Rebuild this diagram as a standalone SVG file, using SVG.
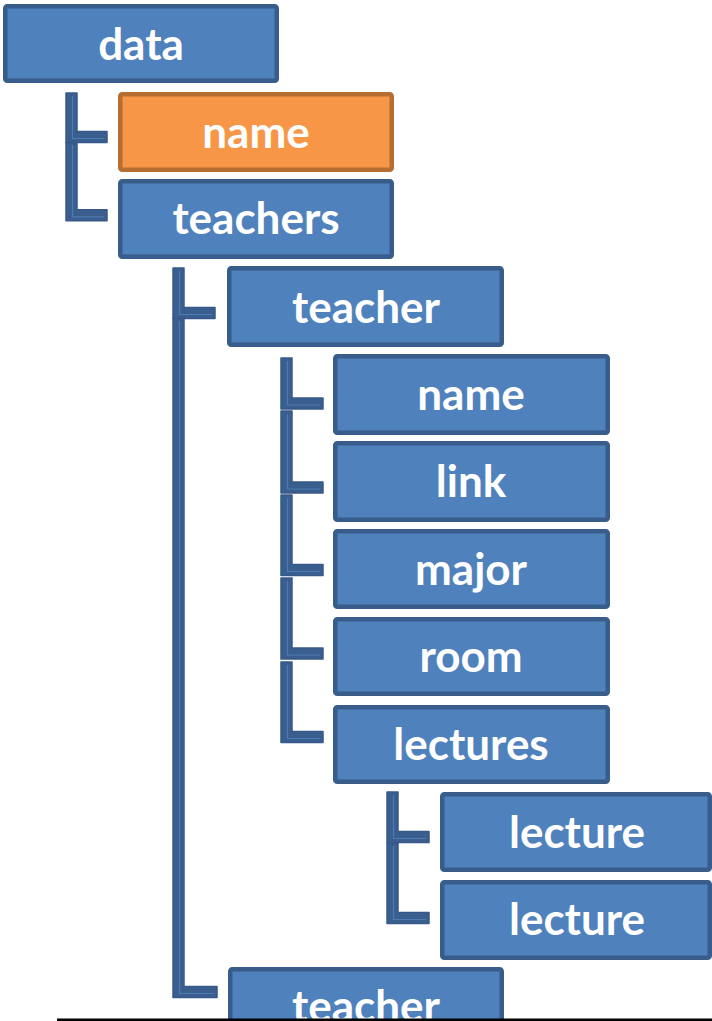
<svg xmlns="http://www.w3.org/2000/svg" width="712" height="1021" viewBox="0 0 712 1021">
  <style>
    .box { fill: #4f81bd; stroke: #385d8a; stroke-width: 4.5; }
    .box.accent { fill: #f79646; stroke: #b66d31; }
    .label { font-family: Lato, "Liberation Sans", sans-serif; font-weight: bold; font-size: 44px; fill: #ffffff; text-anchor: middle; }
    .elbow { fill: #3a5e8e; stroke: #37598a; stroke-width: 1.5; stroke-linejoin: round; }
    .elbow-hl { fill: none; stroke: #4d7bb3; stroke-width: 1.2; }
  </style>
  <rect width="712" height="1021" fill="#ffffff"/>

  <!-- elbow connectors: vertical drop from the parent, then right to the child -->
  <g id="connectors">
    <!-- data -> name, teachers -->
    <path class="elbow" d="M66,93 H77 V131.5 H107 V142.5 H66 Z"/>
    <path class="elbow-hl" d="M72.5,96 V138.5 H104"/>
    <path class="elbow" d="M66,142.5 H77 V209.8 H107 V220.8 H66 Z"/>
    <path class="elbow-hl" d="M72.5,145 V216.8 H104"/>
    <!-- teachers -> teacher, teacher -->
    <path class="elbow" d="M173,268 H184 V307.5 H215 V318.5 H173 Z"/>
    <path class="elbow-hl" d="M179.5,271 V314.5 H212"/>
    <path class="elbow" d="M173,318.5 H184 V986.5 H217 V997.5 H173 Z"/>
    <path class="elbow-hl" d="M179.5,321 V993.5 H214"/>
    <!-- teacher -> name, link, major, room, lectures -->
    <path class="elbow" d="M281,358 H292 V398 H323 V409 H281 Z"/>
    <path class="elbow-hl" d="M287.5,361 V405 H320"/>
    <path class="elbow" d="M281,411 H292 V482 H323 V493 H281 Z"/>
    <path class="elbow-hl" d="M287.5,414 V489 H320"/>
    <path class="elbow" d="M281,495 H292 V564.5 H323 V575.5 H281 Z"/>
    <path class="elbow-hl" d="M287.5,498 V571.5 H320"/>
    <path class="elbow" d="M281,578 H292 V648 H323 V659 H281 Z"/>
    <path class="elbow-hl" d="M287.5,581 V655 H320"/>
    <path class="elbow" d="M281,662 H292 V731.5 H323 V742.5 H281 Z"/>
    <path class="elbow-hl" d="M287.5,665 V738.5 H320"/>
    <!-- lectures -> lecture, lecture -->
    <path class="elbow" d="M387,792 H398 V831.5 H429 V842.5 H387 Z"/>
    <path class="elbow-hl" d="M393.5,795 V838.5 H426"/>
    <path class="elbow" d="M387,843 H398 V912.5 H429 V923.5 H387 Z"/>
    <path class="elbow-hl" d="M393.5,846 V919.5 H426"/>
  </g>

  <g id="node-data">
    <rect class="box" x="5.25" y="6.25" width="271.5" height="74.5" rx="2"/>
    <text class="label" x="141" y="60">data</text>
  </g>
  <g id="node-name">
    <rect class="box accent" x="120.25" y="94.25" width="271.5" height="75.5" rx="2"/>
    <text class="label" x="256" y="147.5">name</text>
  </g>
  <g id="node-teachers">
    <rect class="box" x="120.25" y="181.25" width="271.5" height="75.5" rx="2"/>
    <text class="label" x="256" y="234">teachers</text>
  </g>
  <g id="node-teacher-1">
    <rect class="box" x="229.25" y="268.25" width="272.5" height="76.5" rx="2"/>
    <text class="label" x="366" y="322.5">teacher</text>
  </g>
  <g id="node-teacher-name">
    <rect class="box" x="335.25" y="356.25" width="272.5" height="76.5" rx="2"/>
    <text class="label" x="471" y="409.5">name</text>
  </g>
  <g id="node-link">
    <rect class="box" x="335.25" y="443.25" width="272.5" height="76.5" rx="2"/>
    <text class="label" x="471" y="497">link</text>
  </g>
  <g id="node-major">
    <rect class="box" x="335.25" y="531.25" width="272.5" height="75.5" rx="2"/>
    <text class="label" x="471" y="584.5">major</text>
  </g>
  <g id="node-room">
    <rect class="box" x="335.25" y="619.25" width="272.5" height="74.5" rx="2"/>
    <text class="label" x="471" y="672">room</text>
  </g>
  <g id="node-lectures">
    <rect class="box" x="335.25" y="707.25" width="272.5" height="74.5" rx="2"/>
    <text class="label" x="471" y="760">lectures</text>
  </g>
  <g id="node-lecture-1">
    <rect class="box" x="442.25" y="794.25" width="267.5" height="75.5" rx="2"/>
    <text class="label" x="577" y="847.5">lecture</text>
  </g>
  <g id="node-lecture-2">
    <rect class="box" x="442.25" y="882.25" width="267.5" height="75.5" rx="2"/>
    <text class="label" x="577" y="935">lecture</text>
  </g>
  <g id="node-teacher-2">
    <rect class="box" x="230.25" y="969.25" width="271.5" height="75.5" rx="2"/>
    <text class="label" x="366" y="1022">teacher</text>
  </g>

  <!-- bottom rule -->
  <rect x="57" y="1018.5" width="655" height="2.5" fill="#000000"/>
</svg>
